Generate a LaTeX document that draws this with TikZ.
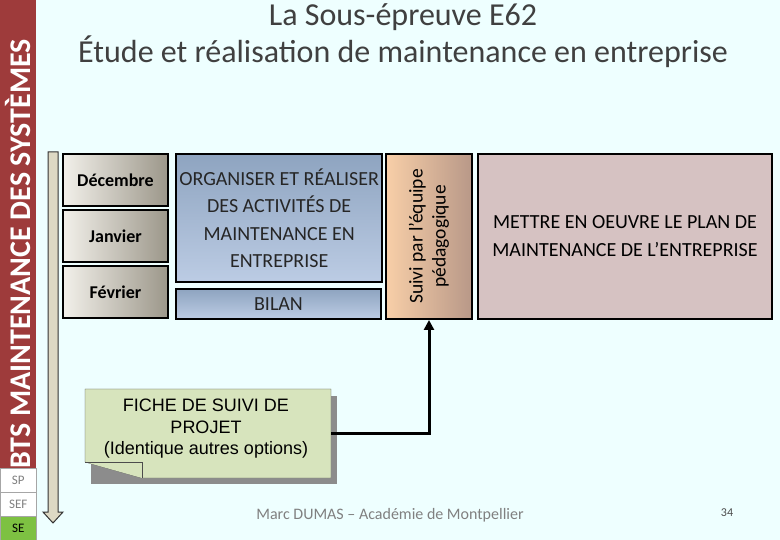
\documentclass[tikz,border=0pt]{standalone}
\usepackage{fontspec}
\setmainfont{Carlito}
\newfontfamily\arialfont{Liberation Sans}
\usetikzlibrary{positioning,calc,arrows,arrows.meta,shadows}
\definecolor{bgcyan}{HTML}{EEFFFF}
\definecolor{barred}{HTML}{9E3B3B}
\definecolor{segreen}{HTML}{7DC142}
\definecolor{beige}{HTML}{DDD9C4}
\definecolor{monthtop}{HTML}{F2F0EA}
\definecolor{monthbot}{HTML}{9C978A}
\definecolor{bluetop}{HTML}{8EA4C0}
\definecolor{bluebot}{HTML}{BCCCE4}
\definecolor{tantop}{HTML}{F8CFA8}
\definecolor{tanbot}{HTML}{B89888}
\definecolor{pinkbox}{HTML}{D6C2C2}
\definecolor{notegreen}{HTML}{D7E4BD}
\tikzset{
  month/.style={draw=black, line width=2pt, left color=monthtop, right color=monthbot,
    font=\fontsize{18}{20}\selectfont\bfseries},
  bluebox/.style={draw=black, line width=2pt, top color=bluetop, bottom color=bluebot,
    align=center, font=\fontsize{20}{27.5}\selectfont, text=black!85},
  level/.style={draw=gray!70, fill=white, minimum width=36pt, minimum height=24pt,
    inner sep=0pt, font=\fontsize{13}{13}\selectfont, text=gray}
}

\begin{document}
\begin{tikzpicture}[x=1pt, y=-1pt]
	\fill[bgcyan] (0,0) rectangle (780,540);
	\useasboundingbox (0,0) rectangle (780,540);
	% side bar
	\fill[barred] (0,0) rectangle (36,468);
	\node[rotate=90, text=white, font=\fontsize{30}{30}\selectfont\bfseries] (side) at (18,254) {BTS MAINTENANCE DES SYSTÈMES};
	\node[level, anchor=north west] (sp) at (0,468) {SP};
	\node[level, anchor=north west] (sef) at (0,492) {SEF};
	\node[level, anchor=north west, fill=segreen, text=black] (se) at (0,516) {SE};

	% title
	\node[align=center, text=black!75, font=\fontsize{32}{37}\selectfont] (title) at (403,36)
		{La Sous-épreuve E62\\Étude et réalisation de maintenance en entreprise};

	% time arrow
	\draw[fill=beige, draw=black!80, line width=1pt] (48,152) -- (58,152) -- (58,512) -- (63,512)
		-- (53,523) -- (43,512) -- (48,512) -- cycle;

	% months
	\node[month, minimum width=105pt, minimum height=52pt, anchor=north west] (dec) at (62,153) {Décembre};
	\node[month, minimum width=105pt, minimum height=52pt, anchor=north west] (jan) at (62,209) {Janvier};
	\node[month, minimum width=105pt, minimum height=52pt, anchor=north west] (fev) at (62,265) {Février};

	% activities
	\node[bluebox, minimum width=205pt, minimum height=128pt, anchor=north west] (orga) at (175,153)
		{ORGANISER ET RÉALISER\\DES ACTIVITÉS DE\\MAINTENANCE EN\\ENTREPRISE};
	\node[bluebox, minimum width=205pt, minimum height=30pt, anchor=north west] (bilan) at (175,288) {BILAN};
	\node[draw=black, line width=2pt, left color=tantop, right color=tanbot, minimum width=86pt,
		minimum height=165pt, anchor=north west] (suivi) at (385,153) {};
	\node[rotate=90, align=center, font=\fontsize{19.5}{23}\selectfont] (suivitxt) at (suivi.center)
		{Suivi par l'équipe\\pédagogique};
	\node[draw=black, line width=2pt, fill=pinkbox, minimum width=294pt, minimum height=165pt,
		anchor=north west, align=center, font=\fontsize{20}{28}\selectfont] (plan) at (477,153)
		{METTRE EN OEUVRE LE PLAN DE\\MAINTENANCE DE L’ENTREPRISE};

	% note
	\fill[black!45] (91,396) rectangle (337,484);
	\draw[fill=notegreen, draw=black!70] (85,389) -- (331,389) -- (331,478) -- (142,478)
		-- (85,462) -- cycle;
	\draw[fill=notegreen, draw=black!70] (85,462) -- (142,462) -- (142,478);
	\node[align=center, font=\arialfont\fontsize{18}{21.5}\selectfont] (fiche) at (206,429)
		{FICHE DE SUIVI DE\\PROJET\\(Identique autres options)};
	\coordinate (ficheR) at (331,433);
	\draw[line width=3pt, -{Triangle[length=10pt,width=10pt]}] (ficheR) -| (suivi.south);

	% footer
	\node[text=gray, font=\fontsize{16}{16}\selectfont] (auteur) at (390,515) {Marc DUMAS – Académie de Montpellier};
	\node[text=black!70, font=\fontsize{12}{12}\selectfont] (page) at (727,513) {34};
\end{tikzpicture}
\end{document}
